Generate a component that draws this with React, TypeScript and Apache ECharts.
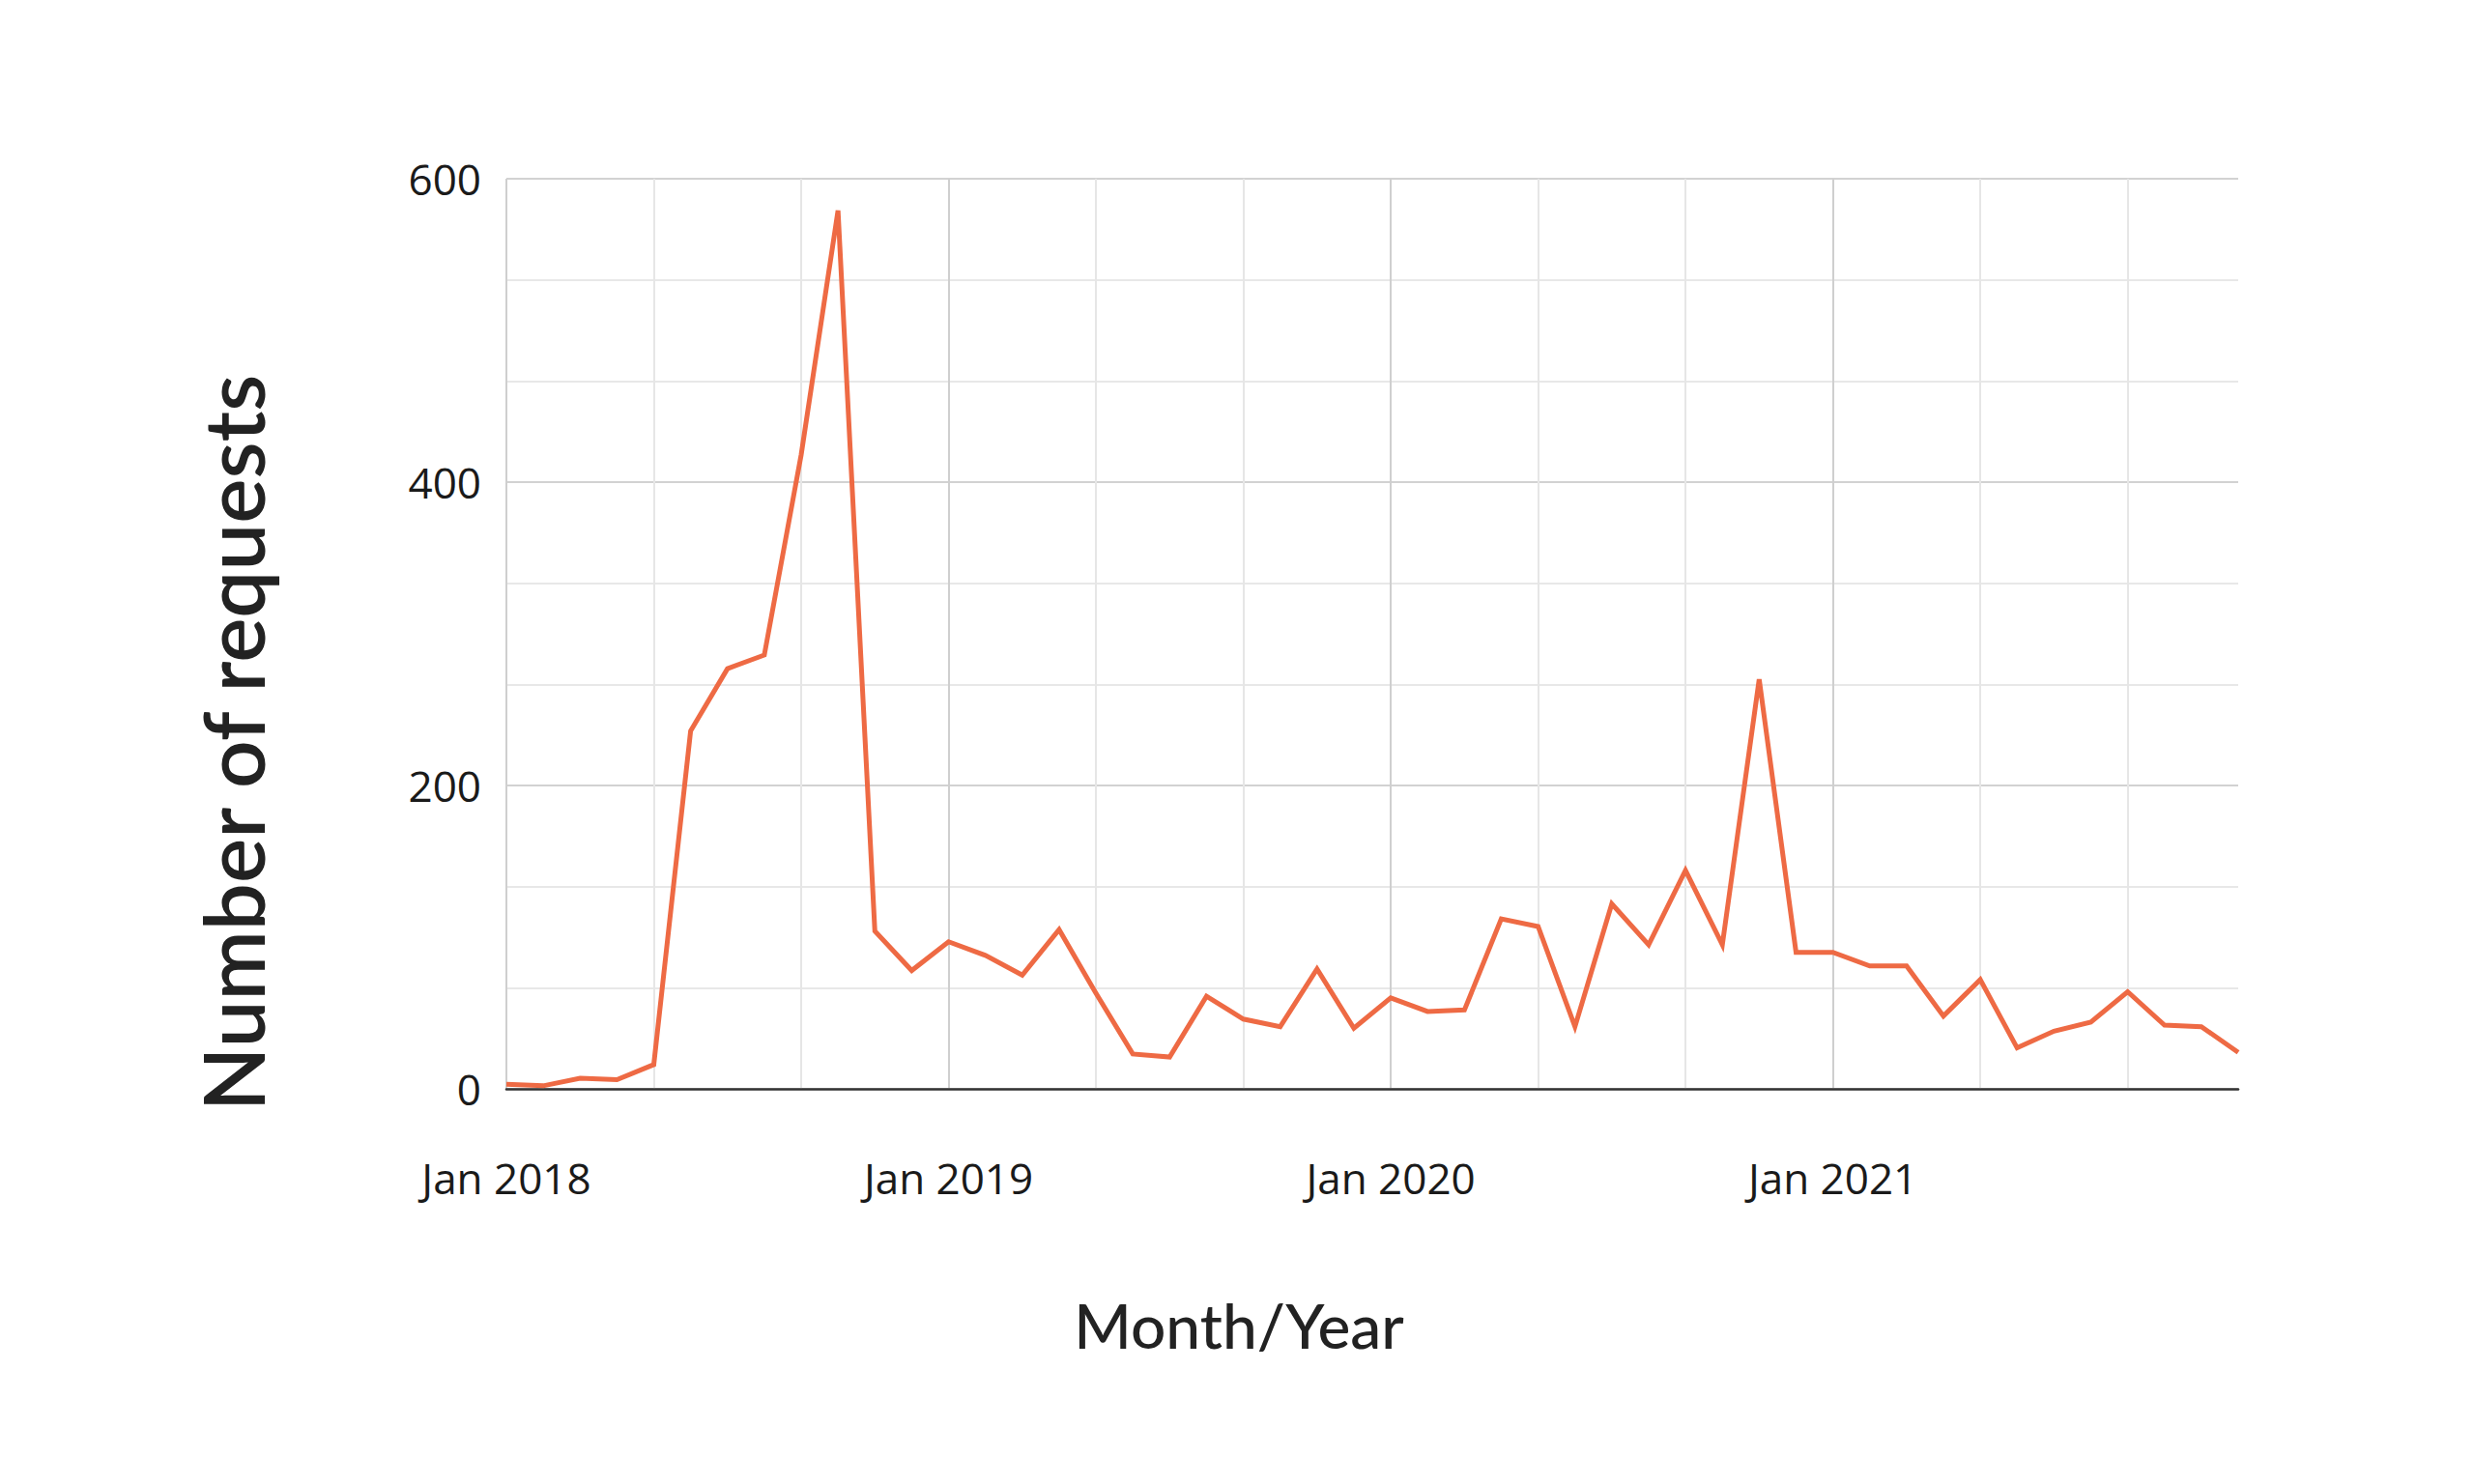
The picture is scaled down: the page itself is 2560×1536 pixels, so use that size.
import React, { useEffect, useRef } from "react";
import * as echarts from "echarts";

const months = ["Jan", "Feb", "Mar", "Apr", "May", "Jun", "Jul", "Aug", "Sep", "Oct", "Nov", "Dec"];
const years = [2018, 2019, 2020, 2021];
const categories: string[] = years.flatMap((y) => months.map((m) => `${m} ${y}`));

const requests2018 = [3, 2, 7, 6, 16, 236, 277, 286, 418, 579, 104, 78];
const requests2019 = [97, 88, 75, 105, 63, 23, 21, 61, 46, 41, 79, 40];
const requests2020 = [60, 51, 52, 112, 107, 41, 122, 95, 144, 95, 270, 90];
const requests2021 = [90, 81, 81, 48, 72, 27, 38, 44, 64, 42, 41, 24];
const requests = [...requests2018, ...requests2019, ...requests2020, ...requests2021];

const yTicks = [0, 200, 400, 600];
const xTitle = "Month/Year";
const yTitle = "Number of requests";

export default function App() {
  const ref = useRef<HTMLDivElement>(null);
  useEffect(() => {
    if (!ref.current) return;
    const chart = echarts.init(ref.current, undefined, { renderer: "svg" });
    chart.setOption({
      animation: false,
      backgroundColor: "#ffffff",
      grid: { left: 524, right: 244, top: 185, bottom: 409, containLabel: false },
      xAxis: {
        type: "category",
        data: categories,
        boundaryGap: false,
        axisLine: { show: true, lineStyle: { color: "#333333", width: 2.5 } },
        axisTick: { show: false },
        axisLabel: {
          interval: 11,
          margin: 70,
          fontFamily: "Open Sans",
          fontSize: 44,
          color: "#1a1a1a",
        },
        splitLine: {
          show: true,
          interval: 3,
          lineStyle: { color: ["#cfcfcf", "#e6e6e6", "#e6e6e6"], width: 2 },
        },
      },
      yAxis: {
        type: "value",
        min: yTicks[0],
        max: yTicks[yTicks.length - 1],
        interval: 200,
        axisLine: { show: false },
        axisTick: { show: false },
        axisLabel: {
          margin: 26,
          fontFamily: "Open Sans",
          fontSize: 44,
          color: "#1a1a1a",
        },
        splitLine: { show: true, lineStyle: { color: "#d2d2d2", width: 2 } },
        minorTick: { show: false, splitNumber: 3 },
        minorSplitLine: { show: true, lineStyle: { color: "#e8e8e8", width: 2 } },
      },
      series: [
        {
          type: "line",
          data: requests,
          symbol: "none",
          lineStyle: { color: "#ee6a44", width: 5, join: "miter" },
          z: 5,
        },
      ],
      graphic: [
        {
          type: "text",
          x: 240,
          y: 769,
          rotation: Math.PI / 2,
          style: {
            text: yTitle,
            fontFamily: "Lato",
            fontWeight: 600,
            fontSize: 87,
            fill: "#222222",
            textAlign: "center",
            textVerticalAlign: "middle",
          },
        },
        {
          type: "text",
          x: 1282,
          y: 1371,
          style: {
            text: xTitle,
            fontFamily: "Lato",
            fontWeight: 500,
            fontSize: 64,
            fill: "#222222",
            textAlign: "center",
            textVerticalAlign: "middle",
          },
        },
      ],
    });
    return () => chart.dispose();
  }, []);
  return (
    <div
      ref={ref}
      style={{ position: "fixed", left: 0, top: 0, width: 2560, height: 1536 }}
    />
  );
}
